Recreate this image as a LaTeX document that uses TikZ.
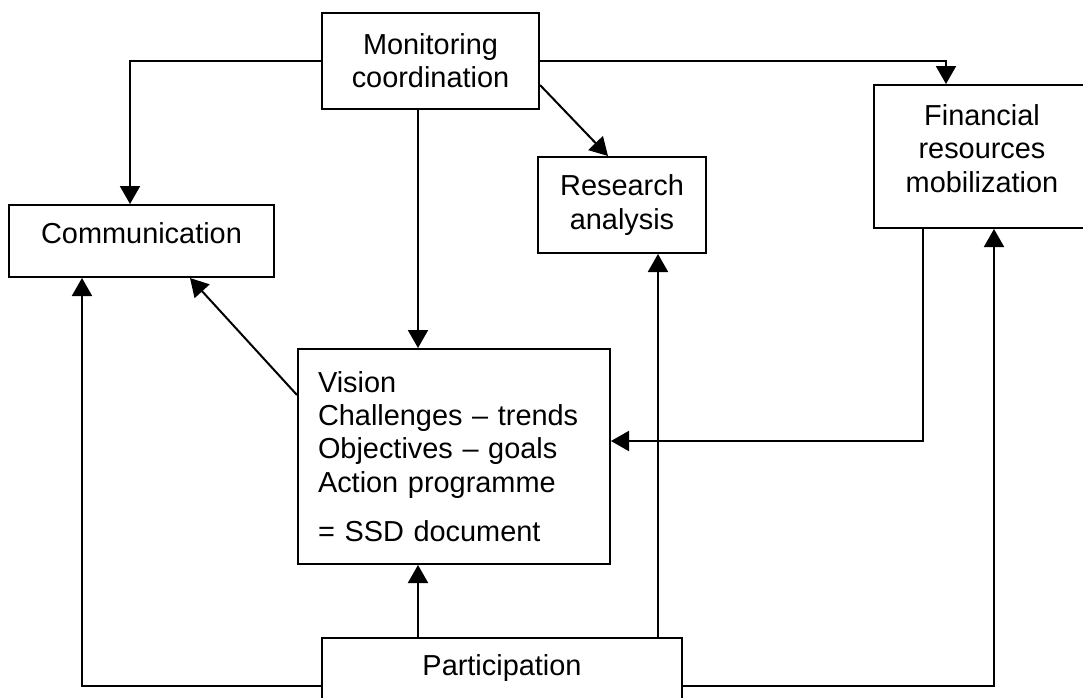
\documentclass[tikz,border=0pt]{standalone}
\usepackage{fontspec}
\setmainfont{Liberation Sans}
\usetikzlibrary{arrows.meta}
\begin{document}
\begin{tikzpicture}[x=0.5pt, y=-0.5pt, line width=1pt, >={Triangle[length=9pt,width=10pt]},
    font=\fontsize{14.45}{16.6}\selectfont,
    box/.style={draw, align=center, inner sep=0pt}]
  \useasboundingbox (0,0) rectangle (1083,697);
  % boxes, placed at the pixel centres of the original drawing
  \node[box, minimum width=108.5pt, minimum height=48pt] (mon) at (430.5,61) {Monitoring\\coordination};
  \node[box, minimum width=132.5pt, minimum height=36pt, text depth=8pt] (com) at (141.5,241) {Communication};
  \node[box, minimum width=84pt, minimum height=48pt] (res) at (622,205) {Research\\analysis};
  \node[box, minimum width=108pt, minimum height=71.5pt, text depth=8pt] (fin) at (982,156.5) {Financial\\resources\\mobilization};
  \node[box, align=left, text width=136pt, inner xsep=10pt, minimum height=107.5pt] (vis) at (454,456.5)
    {Vision\\Challenges -- trends\\Objectives -- goals\\Action programme\\[8pt]= SSD document};
  \node[box, minimum width=180pt, inner ysep=8.5pt, text depth=20.5pt, anchor=north] (par) at (502,637) {Participation};
  % connectors
  \draw[->] (mon.west) -| ([xshift=-5.75pt]com.north);
  \draw[->] (mon.east) -| ([xshift=-18pt]fin.north);
  \draw[->] ([xshift=-6.25pt]mon.south) coordinate (m1) -- (m1 |- vis.north);
  \draw[->] ([yshift=-12pt]mon.east) -- ([xshift=-7pt]res.north);
  \draw[->] ([yshift=30.75pt]vis.west) -- ([xshift=24.25pt]com.south);
  \draw[->] ([xshift=-29.5pt]fin.south) |- ([yshift=7.75pt]vis.east);
  \draw[->] ([xshift=-42pt]par.north) coordinate (p1) -- (p1 |- vis.south);
  \draw[->] ([xshift=78pt]par.north) coordinate (p2) -- (p2 |- res.south);
  \draw[->] (par.west) -| ([xshift=-29.75pt]com.south);
  \draw[->] (par.east) -| ([xshift=6pt]fin.south);
\end{tikzpicture}
\end{document}
